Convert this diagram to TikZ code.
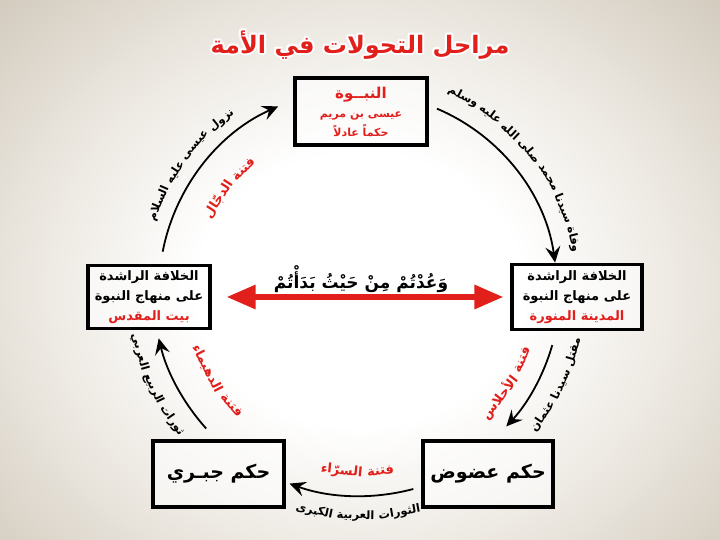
\documentclass[tikz,border=0pt]{standalone}
\usepackage{fontspec}
\usetikzlibrary{arrows.meta,calc}
\newfontfamily\arabicfont[Script=Arabic]{DejaVu Sans}
\TeXXeTstate=1
\definecolor{tred}{HTML}{E11F1B}
\definecolor{bgA}{HTML}{ECE8E1}
\definecolor{bgB}{HTML}{D2CABD}
\definecolor{bgC}{HTML}{B7AD9C}
\definecolor{bgD}{HTML}{A09583}
\definecolor{bgE}{HTML}{8E8371}
\pgfdeclareradialshading{bgshade}{\pgfpoint{0bp}{0bp}}{color(0bp)=(white); color(11bp)=(white); color(22bp)=(bgA); color(34bp)=(bgB); color(46bp)=(bgC); color(58bp)=(bgD); color(72bp)=(bgE)}
\newcommand\outfont{\arabicfont\bfseries\fontsize{11.5}{13}\selectfont}
\newcommand\infont{\arabicfont\bfseries\fontsize{13}{15}\selectfont}
% ---- words placed one by one along a circle round (C) ----
\newbox\albox
\def\alstopmark{\alstop}
\def\almeasureword#1{\pgfinterruptpicture\setbox\albox=\hbox{\alfont #1}\xdef\alwd{\the\wd\albox}\endpgfinterruptpicture}
\def\almeasure#1,{\def\alarg{#1}%
  \ifx\alarg\alstopmark\else
    \almeasureword{#1}%
    \pgfmathsetmacro\altotw{\altotw+\alwd}%
    \pgfmathsetmacro\alnw{\alnw+1}%
    \expandafter\almeasure
  \fi}
\def\alplace#1,{\def\alarg{#1}%
  \ifx\alarg\alstopmark\else
    \almeasureword{#1}%
    \pgfmathsetmacro\alwa{\alwd/\alr*57.29578}%
    \pgfmathsetmacro\alca{\alcur+\alsign*\alwa/2}%
    \pgfmathsetmacro\alrr{\alca+\alrot}%
    \node[inner sep=0pt, rotate=\alrr, text=\alcol] at ([shift={(\alca:\alr pt)}]C) {\alfont\beginR #1\endR};
    \pgfmathsetmacro\alcur{\alcur+\alsign*(\alwa+\alsp/\alr*57.29578)}%
    \expandafter\alplace
  \fi}
\newcommand\arclabel[7]{%
  \def\alfont{#5}\def\alr{#2}\def\alsign{#3}\def\alrot{#4}\def\alcol{#6}%
  \almeasureword{\ }\let\alsp\alwd
  \def\altotw{0}\def\alnw{0}%
  \almeasure#7,\alstop,%
  \pgfmathsetmacro\alcur{#1-(\alsign)*(\altotw+(\alnw-1)*\alsp)/\alr*57.29578/2}%
  \alplace#7,\alstop,%
}
\tikzset{
  stagebox/.style={draw=black, line width=3.1pt, fill=white, fill opacity=0.55, text opacity=1, align=center, inner sep=2pt},
  arcline/.style={line width=1.8pt, -{Stealth[length=16pt, width=15pt, inset=6pt]}},
  bigarrow/.style={draw=tred, line width=6pt, {Triangle[length=29pt, width=23pt]}-{Triangle[length=29pt, width=23pt]}},
  titlefont/.style={font=\arabicfont\bfseries\fontsize{24}{28}\selectfont},
}
\begin{document}
\begin{tikzpicture}[x=1pt, y=1pt]
\useasboundingbox (0,0) rectangle (720,-540);
\begin{scope}
  \clip (0,0) rectangle (720,-540);
  \shade[shading=bgshade] (-10,20) rectangle (730,-600);
\end{scope}
\coordinate (C) at (360,-290);

% title with white halo
\foreach \a in {0,45,...,315}
  \node[titlefont, text=white] at ([shift={(\a:2.2pt)}]360,-45) {\beginR مراحل التحولات في الأمة\endR};
\node[titlefont, text=tred] (title) at (360,-45) {\beginR مراحل التحولات في الأمة\endR};

% boxes
\node[stagebox, minimum width=132pt, minimum height=67pt, text=tred,
      font=\arabicfont\bfseries\fontsize{11}{19}\selectfont] (top) at (361,-111.5)
  {{\fontsize{15}{18}\selectfont\beginR النبــوة\endR}\\
   \beginR عيسى بن مريم\endR\\
   \beginR حكماً عادلاً\endR};
\node[stagebox, minimum width=130pt, minimum height=65pt,
      font=\arabicfont\bfseries\fontsize{13}{20}\selectfont] (right) at (577,-297)
  {\beginR الخلافة الراشدة\endR\\
   \beginR على منهاج النبوة\endR\\
   \textcolor{tred}{\beginR المدينة المنورة\endR}};
\node[stagebox, minimum width=122pt, minimum height=63pt,
      font=\arabicfont\bfseries\fontsize{13}{20}\selectfont] (left) at (149,-297)
  {\beginR الخلافة الراشدة\endR\\
   \beginR على منهاج النبوة\endR\\
   \textcolor{tred}{\beginR بيت المقدس\endR}};
\node[stagebox, minimum width=130pt, minimum height=66pt,
      font=\arabicfont\bfseries\fontsize{19}{22}\selectfont] (br) at (488,-474)
  {\beginR حكم عضوض\endR};
\node[stagebox, minimum width=131pt, minimum height=66pt,
      font=\arabicfont\bfseries\fontsize{19}{22}\selectfont] (bl) at (218.5,-474)
  {\beginR حكم جبـري\endR};

% central arrow and text
\draw[bigarrow, shorten <=15pt, shorten >=7pt] (left.east) -- (right.west);
\node (promise) at (361,-279) {\arabicfont\bfseries\fontsize{17}{20}\selectfont\beginR وَعُدْتُمْ مِنْ حَيْثُ بَدَأْتُمْ\endR};

% arcs
\coordinate (a1s) at ([shift={(67:197pt)}]C);
\coordinate (a2s) at ([shift={(-16:200pt)}]C);
\coordinate (a3s) at ([shift={(-75:206pt)}]C);
\coordinate (a4s) at ([shift={(222:207pt)}]C);
\coordinate (a5s) at ([shift={(169:201pt)}]C);
\draw[arcline] (a1s) arc[start angle=67, end angle=8, radius=197pt];
\draw[arcline] (a2s) arc[start angle=-16, end angle=-43, radius=200pt];
\draw[arcline] (a3s) arc[start angle=-75, end angle=-110, radius=206pt];
\draw[arcline] (a4s) arc[start angle=222, end angle=193.5, radius=207pt];
\draw[arcline] (a5s) arc[start angle=169, end angle=114, radius=201pt];

% arc labels
\arclabel{38}{219}{1}{-90}{\outfont}{black}{وفاة,سيدنا,محمد,صلى,الله,عليه,وسلم}
\arclabel{143.5}{219}{1}{-90}{\outfont}{black}{نزول,عيسى,عليه,السلام}
\arclabel{142}{168}{1}{-90}{\infont}{tred}{فتنة,الدجّال}
\arclabel{-25.7}{222}{-1}{90}{\outfont}{black}{مقتل,سيدنا,عثمان}
\arclabel{-32.5}{176}{-1}{90}{\infont}{tred}{فتنة,الأحلاس}
\arclabel{-90.5}{226}{-1}{90}{\outfont}{black}{الثورات,العربية,الكبرى}
\arclabel{-90.8}{182}{-1}{90}{\infont}{tred}{فتنة,السرّاء}
\arclabel{205}{229}{-1}{90}{\outfont}{black}{ثورات,الربيع,العربي}
\arclabel{212.5}{172}{-1}{90}{\infont}{tred}{فتنة,الدهيماء}
\end{tikzpicture}
\end{document}
